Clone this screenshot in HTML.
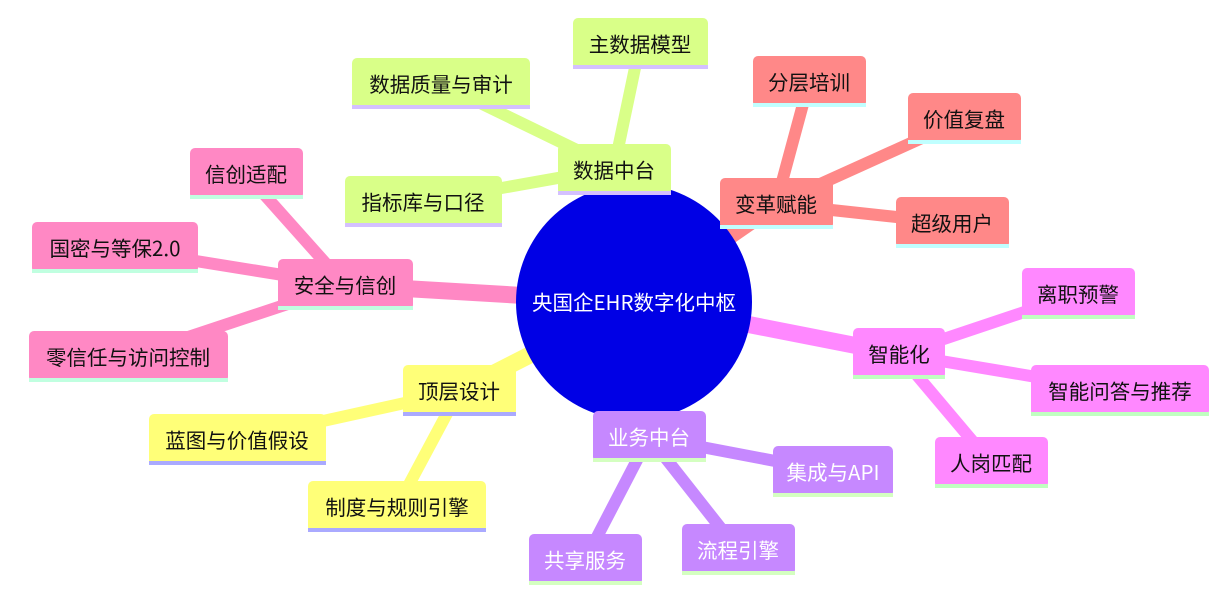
<!DOCTYPE html>
<html><head><meta charset="utf-8"><style>
html,body{margin:0;padding:0;background:#fff;width:1231px;height:607px;overflow:hidden}
text{font-family:"Noto Sans CJK SC","Liberation Sans",sans-serif;font-size:20.5px;text-anchor:middle}
</style></head><body>
<svg width="1231" height="607" viewBox="0 0 1231 607">
<g stroke-linecap="butt">
<g stroke="#d9ff88" stroke-width="12">
<line x1="614" y1="168" x2="640" y2="44"/>
<line x1="614" y1="168" x2="441" y2="84"/>
<line x1="614" y1="168" x2="423" y2="202"/>
</g>
<g stroke="#ff8888" stroke-width="12">
<line x1="776" y1="204" x2="809" y2="82"/>
<line x1="776" y1="204" x2="964" y2="119"/>
<line x1="776" y1="204" x2="952" y2="223"/>
</g>
<g stroke="#ff88c4" stroke-width="12">
<line x1="345" y1="285" x2="246" y2="174"/>
<line x1="345" y1="285" x2="115" y2="248"/>
<line x1="345" y1="285" x2="128" y2="357"/>
</g>
<g stroke="#ffff78" stroke-width="12">
<line x1="459" y1="391" x2="237" y2="440"/>
<line x1="459" y1="391" x2="397" y2="507"/>
</g>
<g stroke="#c688ff" stroke-width="12">
<line x1="649" y1="437" x2="833" y2="472"/>
<line x1="649" y1="437" x2="738" y2="550"/>
<line x1="649" y1="437" x2="585" y2="560"/>
</g>
<g stroke="#ff88ff" stroke-width="12">
<line x1="899" y1="354" x2="1078" y2="294"/>
<line x1="899" y1="354" x2="1120" y2="391"/>
<line x1="899" y1="354" x2="991" y2="463"/>
</g>
<line x1="634" y1="302" x2="614" y2="168" stroke="#d9ff88" stroke-width="17"/>
<line x1="634" y1="302" x2="776" y2="204" stroke="#ff8888" stroke-width="17"/>
<line x1="634" y1="302" x2="345" y2="285" stroke="#ff88c4" stroke-width="17"/>
<line x1="634" y1="302" x2="459" y2="391" stroke="#ffff78" stroke-width="17"/>
<line x1="634" y1="302" x2="649" y2="437" stroke="#c688ff" stroke-width="17"/>
<line x1="634" y1="302" x2="899" y2="354" stroke="#ff88ff" stroke-width="17"/>
</g>
<circle cx="634" cy="302" r="118" fill="#0000e5"/>
<text x="634" y="310" fill="#fff" style="font-size:20.5px">央国企EHR数字化中枢</text>

<g fill="#d9ff88">
<rect x="558" y="144" width="113" height="51" rx="5"/>
<rect x="573" y="18" width="135" height="51" rx="5"/>
<rect x="352" y="58" width="178" height="51" rx="5"/>
<rect x="345" y="176" width="157" height="51" rx="5"/>
</g>
<g fill="#d4c0ff">
<rect x="558" y="191" width="113" height="4"/>
<rect x="573" y="65" width="135" height="4"/>
<rect x="352" y="105" width="178" height="4"/>
<rect x="345" y="223" width="157" height="4"/>
</g>
<g fill="#111">
<text x="614" y="178">数据中台</text>
<text x="640" y="52">主数据模型</text>
<text x="441" y="92">数据质量与审计</text>
<text x="423" y="210">指标库与口径</text>
</g>
<g fill="#ff8888">
<rect x="720" y="178" width="113" height="51" rx="5"/>
<rect x="753" y="56" width="113" height="51" rx="5"/>
<rect x="908" y="93" width="113" height="51" rx="5"/>
<rect x="896" y="197" width="113" height="51" rx="5"/>
</g>
<g fill="#c0ffff">
<rect x="720" y="225" width="113" height="4"/>
<rect x="753" y="103" width="113" height="4"/>
<rect x="908" y="140" width="113" height="4"/>
<rect x="896" y="244" width="113" height="4"/>
</g>
<g fill="#111">
<text x="776" y="212">变革赋能</text>
<text x="809" y="90">分层培训</text>
<text x="964" y="127">价值复盘</text>
<text x="952" y="231">超级用户</text>
</g>
<g fill="#ff88c4">
<rect x="278" y="259" width="135" height="51" rx="5"/>
<rect x="190" y="148" width="113" height="51" rx="5"/>
<rect x="32" y="222" width="166" height="51" rx="5"/>
<rect x="29" y="331" width="199" height="51" rx="5"/>
</g>
<g fill="#c0ffe0">
<rect x="278" y="306" width="135" height="4"/>
<rect x="190" y="195" width="113" height="4"/>
<rect x="32" y="269" width="166" height="4"/>
<rect x="29" y="378" width="199" height="4"/>
</g>
<g fill="#111">
<text x="345" y="293">安全与信创</text>
<text x="246" y="182">信创适配</text>
<text x="115" y="256">国密与等保2.0</text>
<text x="128" y="365">零信任与访问控制</text>
</g>
<g fill="#ffff78">
<rect x="403" y="365" width="113" height="51" rx="5"/>
<rect x="149" y="414" width="177" height="51" rx="5"/>
<rect x="308" y="481" width="178" height="51" rx="5"/>
</g>
<g fill="#aaaaff">
<rect x="403" y="412" width="113" height="4"/>
<rect x="149" y="461" width="177" height="4"/>
<rect x="308" y="528" width="178" height="4"/>
</g>
<g fill="#111">
<text x="459" y="399">顶层设计</text>
<text x="237" y="448">蓝图与价值假设</text>
<text x="397" y="515">制度与规则引擎</text>
</g>
<g fill="#c688ff">
<rect x="593" y="411" width="113" height="51" rx="5"/>
<rect x="773" y="446" width="120" height="51" rx="5"/>
<rect x="682" y="524" width="113" height="51" rx="5"/>
<rect x="529" y="534" width="113" height="51" rx="5"/>
</g>
<g fill="#d4ffc0">
<rect x="593" y="458" width="113" height="4"/>
<rect x="773" y="493" width="120" height="4"/>
<rect x="682" y="571" width="113" height="4"/>
<rect x="529" y="581" width="113" height="4"/>
</g>
<g fill="#fff">
<text x="649" y="445">业务中台</text>
<text x="833" y="480">集成与API</text>
<text x="738" y="558">流程引擎</text>
<text x="585" y="568">共享服务</text>
</g>
<g fill="#ff88ff">
<rect x="853" y="328" width="92" height="51" rx="5"/>
<rect x="1022" y="268" width="113" height="51" rx="5"/>
<rect x="1031" y="365" width="178" height="51" rx="5"/>
<rect x="935" y="437" width="113" height="51" rx="5"/>
</g>
<g fill="#c0ffc0">
<rect x="853" y="375" width="92" height="4"/>
<rect x="1022" y="315" width="113" height="4"/>
<rect x="1031" y="412" width="178" height="4"/>
<rect x="935" y="484" width="113" height="4"/>
</g>
<g fill="#111">
<text x="899" y="362">智能化</text>
<text x="1078" y="302">离职预警</text>
<text x="1120" y="399">智能问答与推荐</text>
<text x="991" y="471">人岗匹配</text>
</g>
</svg>
</body></html>
